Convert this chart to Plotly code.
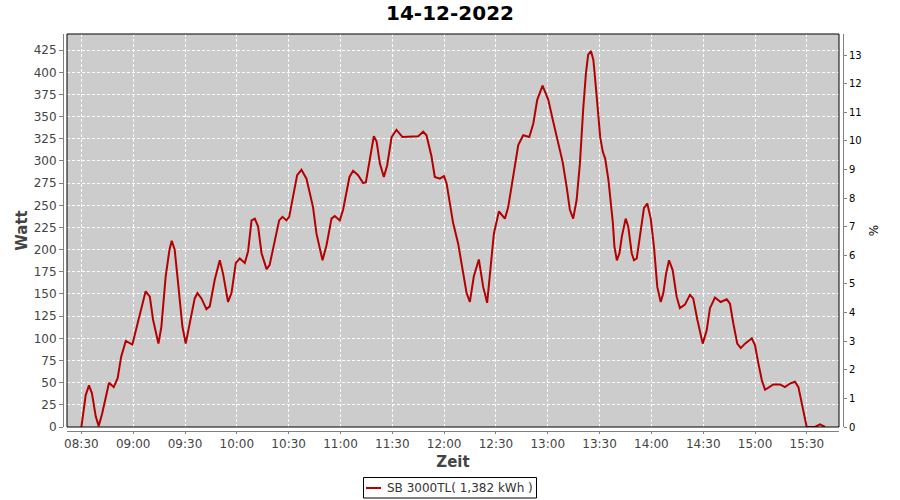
import plotly.graph_objects as go

times = ["08:30:00","08:31:00","08:32:30","08:34:24","08:36:06","08:38:18","08:40:00","08:42:00","08:44:00","08:46:00",
         "08:48:42","08:51:00","08:53:00","08:55:42","08:59:30","09:02:48","09:07:12","09:09:36","09:11:30","09:14:36",
         "09:16:18","09:18:48","09:21:00","09:22:18","09:24:00","09:26:00","09:28:30","09:30:24","09:32:42","09:35:36",
         "09:37:12","09:39:30","09:42:24","09:44:18","09:47:12","09:50:06","09:52:00","09:54:54","09:56:54","09:59:24",
         "10:01:42","10:04:36","10:06:30","10:08:30","10:10:24","10:12:18","10:14:18","10:17:12","10:19:00","10:22:00",
         "10:24:30","10:26:24","10:28:42","10:30:18","10:32:36","10:34:54","10:37:24","10:40:18","10:44:06","10:46:06",
         "10:49:36","10:51:54","10:54:48","10:56:42","10:59:36","11:01:30","11:05:12","11:07:18","11:10:12","11:13:06",
         "11:14:42","11:17:00","11:19:18","11:20:54","11:22:48","11:25:06","11:27:00","11:29:36","11:32:24","11:35:54",
         "11:42:00","11:45:00","11:47:54","11:49:48","11:52:42","11:54:36","11:57:30","11:59:54","12:01:24","12:03:18",
         "12:05:12","12:08:06","12:10:06","12:13:00","12:14:54","12:17:12","12:20:06","12:22:36","12:24:54","12:26:54",
         "12:28:48","12:31:42","12:35:12","12:37:06","12:40:00","12:42:54","12:45:48","12:49:18","12:51:36","12:53:54",
         "12:57:00","13:00:18","13:03:12","13:06:00","13:08:36","13:10:54","13:12:48","13:14:42","13:16:42","13:18:36",
         "13:19:36","13:20:30","13:22:06","13:23:24","13:25:00","13:26:24","13:28:00","13:29:24","13:30:24","13:31:54",
         "13:33:12","13:35:06","13:36:30","13:37:42","13:38:36","13:40:00","13:41:30","13:42:54","13:45:06","13:46:36",
         "13:48:36","13:49:54","13:51:30","13:53:24","13:55:42","13:57:36","13:59:36","14:01:30","14:03:24","14:05:24",
         "14:06:54","14:08:30","14:10:12","14:12:18","14:14:36","14:16:30","14:19:24","14:22:18","14:24:12","14:26:36",
         "14:29:42","14:32:00","14:33:54","14:36:48","14:40:06","14:43:36","14:45:30","14:47:24","14:49:42","14:51:42",
         "14:54:12","14:58:06","15:00:00","15:01:54","15:03:54","15:05:48","15:07:42","15:10:36","15:14:24","15:17:18",
         "15:20:12","15:23:06","15:25:06","15:27:00","15:28:54","15:29:54","15:34:42","15:37:36","15:40:30"]

watt = [0,16,36,47,38,12,1,15,34,50,
        45,55,79,97,93,119,153,147,121,94,
        113,170,200,210,200,162,113,94,117,145,
        151,145,133,136,166,188,173,141,151,185,
        190,185,198,233,235,226,196,178,183,211,
        233,237,233,237,260,284,290,280,248,218,
        188,205,235,238,233,245,282,289,284,275,
        276,301,328,322,297,282,295,327,335,327,
        328,328,333,329,305,282,280,283,275,252,
        230,207,185,151,141,170,189,158,140,177,
        218,243,235,248,282,318,329,327,342,369,
        385,369,344,320,299,271,245,235,256,297,
        331,358,399,420,424,414,380,346,326,310,
        303,279,256,230,203,188,196,215,235,226,
        196,188,190,215,247,252,235,203,158,141,
        151,173,188,177,147,134,138,149,145,121,
        94,109,134,146,141,144,139,117,94,89,
        94,100,92,72,53,42,44,48,48,45,
        49,51,45,27,8,0,0,3,0]

date = "2022-12-14"
x_vals = [f"{date} {t}" for t in times]

title_text = "14-12-2022"
legend_name = "SB 3000TL( 1,382 kWh )"
left_ticks = list(range(0, 426, 25))
right_ticks = list(range(0, 14))
line_color = "#b40000"

fig = go.Figure()
fig.add_trace(go.Scatter(x=x_vals, y=watt, mode="lines", name=legend_name,
                         line=dict(color=line_color, width=2), showlegend=False))
fig.add_trace(go.Scatter(x=[], y=[], yaxis="y2", showlegend=False, hoverinfo="skip"))

W, H = 900, 500
ml, mr, mt, mb = 63, 57, 34, 69
pw = W - ml - mr
ph = H - mt - mb


def px(xpix):
    return (xpix - ml) / pw


def py(ypix):
    return (H - mb - ypix) / ph


fig.update_layout(
    width=W, height=H,
    margin=dict(l=ml, r=mr, t=mt, b=mb, autoexpand=False),
    paper_bgcolor="white",
    plot_bgcolor="#cccccc",
    font=dict(family="DejaVu Sans", size=12, color="#444444"),
    title=dict(text=title_text, x=0.5, xanchor="center", y=0.988, yanchor="top",
               font=dict(family="DejaVu Sans", size=20, color="black", weight="bold")),
    xaxis=dict(
        type="date",
        domain=[4 / pw, 1 - 4 / pw],
        anchor="free", position=0, automargin=False,
        range=[f"{date} 08:21:40", f"{date} 15:48:36"],
        tick0=f"{date} 08:30", dtick=1800000, tickformat="%H:%M",
        showgrid=True, gridcolor="white", griddash="3px,2px", gridwidth=1,
        showline=True, linecolor="#808080", linewidth=1,
        ticks="outside", ticklen=2, tickcolor="#808080",
        tickfont=dict(size=12, color="#444444"),
        title=dict(text="Zeit", font=dict(size=15, color="#444444", weight="bold"), standoff=6),
        zeroline=False,
    ),
    yaxis=dict(
        domain=[4 / ph, 1],
        anchor="free", position=0, automargin=False,
        range=[0, 443.2],
        tickvals=left_ticks,
        showgrid=True, gridcolor="white", griddash="3px,2px", gridwidth=1,
        showline=True, linecolor="#808080", linewidth=1,
        ticks="outside", ticklen=4, tickcolor="#808080",
        tickfont=dict(size=12, color="#444444"),
        title=dict(text="Watt", font=dict(size=15, color="#444444", weight="bold"), standoff=1),
        zeroline=False,
    ),
    yaxis2=dict(
        overlaying="y", side="right",
        anchor="free", position=1, automargin=False,
        range=[0, 13.74],
        tickvals=right_ticks,
        showgrid=False,
        showline=True, linecolor="#808080", linewidth=1,
        ticks="outside", ticklen=3, tickcolor="#808080",
        tickfont=dict(size=10, color="black"),
        title=dict(text="%", font=dict(size=12, color="black"), standoff=8),
        zeroline=False,
    ),
    showlegend=False,
)

# plot border
fig.add_shape(type="rect", xref="x domain", yref="y domain", x0=0, x1=1, y0=0, y1=1,
              line=dict(color="black", width=1), fillcolor="rgba(0,0,0,0)", layer="above")

# legend box (drawn manually to match the compact legend of the original)
fig.add_shape(type="rect", xref="paper", yref="paper",
              x0=px(363.5), x1=px(536.5), y0=py(498), y1=py(477.5),
              line=dict(color="black", width=1), fillcolor="white")
fig.add_shape(type="line", xref="paper", yref="paper",
              x0=px(366), x1=px(381), y0=py(488), y1=py(488),
              line=dict(color=line_color, width=2))
fig.add_annotation(xref="paper", yref="paper", x=px(385), y=py(488),
                   xanchor="left", yanchor="middle", showarrow=False,
                   text=legend_name, font=dict(size=12, color="#333333"))

fig.write_html("out.html", post_script="document.body.style.margin='0px';",
               config={"displayModeBar": False})
